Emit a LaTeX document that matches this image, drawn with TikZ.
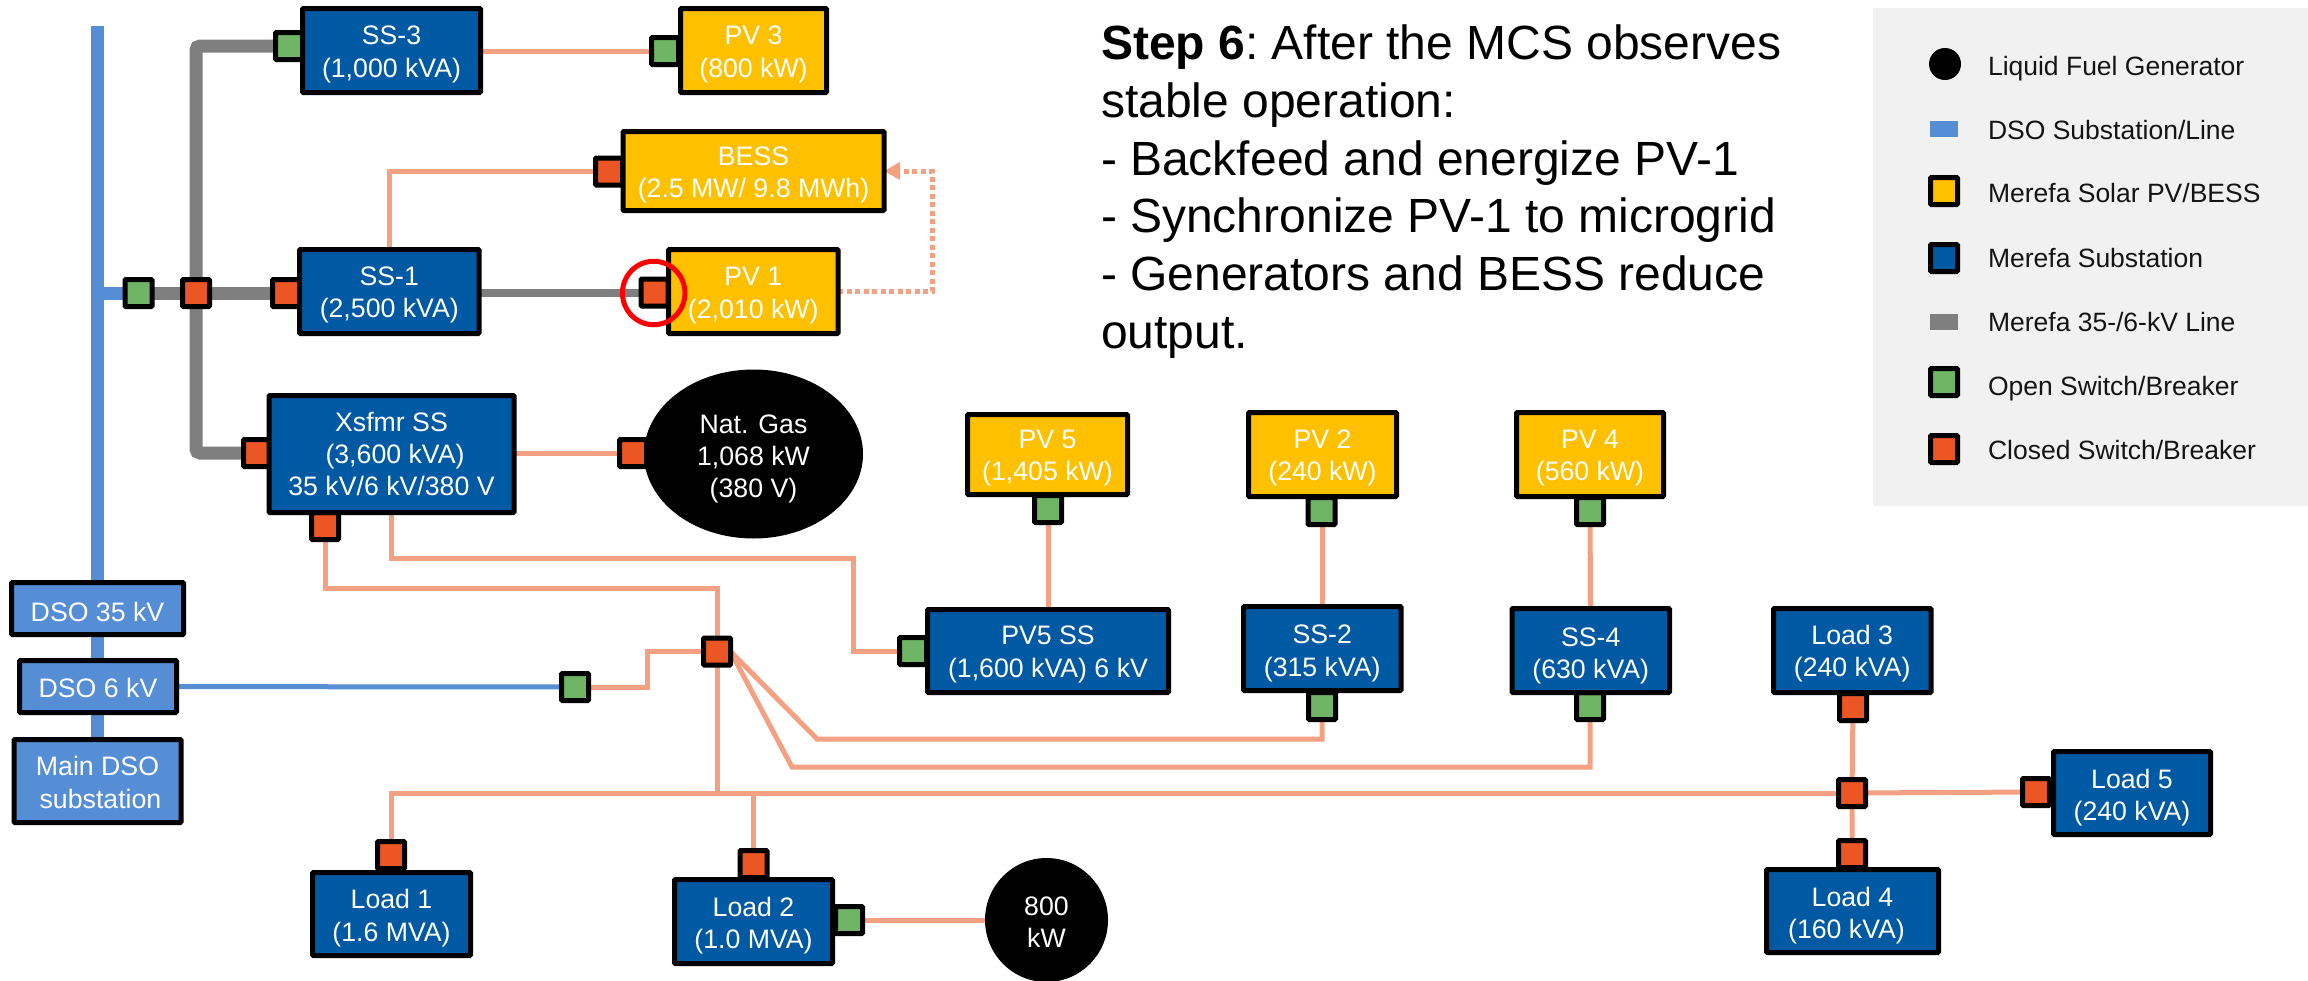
\documentclass[tikz,border=0pt]{standalone}
\usepackage{fontspec}
\setmainfont{Liberation Sans}
\usetikzlibrary{arrows.meta,backgrounds,shapes.geometric}
\definecolor{dsoblue}{HTML}{558ED5}
\definecolor{merblue}{HTML}{005AA3}
\definecolor{solar}{HTML}{FFC000}
\definecolor{opengreen}{HTML}{70B565}
\definecolor{closedorange}{HTML}{EC5624}
\definecolor{salmon}{HTML}{F4A083}
\definecolor{linegray}{HTML}{7F7F7F}
\definecolor{legendbg}{HTML}{F1F1F1}
\newcommand{\dropfirst}[1]{\rule{0pt}{\dimexpr 19.5pt+2\dimexpr #1pt\relax\relax}}
\newcommand{\bx}[8]{%
  \pgfmathsetmacro\bxcx{(#3+#4)/2}%
  \pgfmathsetmacro\bxcy{(#5+#6)/2}%
  \pgfmathsetmacro\bxw{#4-#3-5}%
  \pgfmathsetmacro\bxh{#6-#5-5}%
  \node[#2,minimum width=\bxw pt,minimum height=\bxh pt] (#1) at (\bxcx,\bxcy) {\dropfirst{#8}#7};}
\tikzset{
  every node/.style={inner sep=0pt,outer sep=0pt},
  boxtext/.style={align=center,text=white,font=\fontsize{26.7}{32.3}\selectfont},
  dsobox/.style={boxtext,draw=black,line width=5pt,fill=dsoblue,rounded corners=1pt},
  subst/.style={boxtext,draw=black,line width=5pt,fill=merblue,rounded corners=1pt},
  pvbox/.style={boxtext,draw=black,line width=5pt,fill=solar,rounded corners=1pt},
  gen/.style={boxtext,ellipse,fill=black},
  switchbase/.style={draw=black,line width=5pt,rounded corners=1pt,minimum width=27pt,minimum height=27pt},
  swopen/.style={switchbase,fill=opengreen},
  swclosed/.style={switchbase,fill=closedorange},
  medline/.style={draw=salmon,line width=5pt},
  dsoline/.style={draw=dsoblue,line width=13pt},
  dsothin/.style={draw=dsoblue,line width=5pt},
  grayline/.style={draw=linegray,line width=13pt,rounded corners=4pt},
  graystraight/.style={draw=linegray,line width=13pt},
  graythin/.style={draw=linegray,line width=8pt},
  dotline/.style={draw=salmon,line width=5pt,dash pattern=on 5pt off 3.5pt},
  legendtext/.style={anchor=west,text=black!92,font=\fontsize{26.5}{32}\selectfont},
  steptext/.style={anchor=north west,align=left,font=\frenchspacing\fontsize{48}{57.7}\selectfont},
  marker/.style={draw=red,line width=5pt,ellipse,minimum width=62.5pt,minimum height=63.5pt}
}
\begin{document}
\begin{tikzpicture}[x=1pt,y=-1pt]
\useasboundingbox (0,0) rectangle (2308,980);
% switches (behind the boxes)
\node[swopen] (swtie) at (138.5,293) {};
\node[swclosed] (swmain) at (196,293) {};
\node[swopen] (swss3) at (289,46) {};
\node[swopen] (swpv3) at (665,51) {};
\node[swclosed] (swbess) at (609,171.5) {};
\node[swclosed] (swss1) at (286,293) {};
\node[swclosed] (swpv1) at (654.5,292.5) {};
\node[swclosed] (swxf) at (257,453) {};
\node[swclosed] (swng) at (633,453) {};
\node[swclosed] (swxb) at (325,526) {};
\node[swclosed] (swbus) at (717,651.5) {};
\node[swopen] (swd6) at (575,687) {};
\node[swopen] (swp5ss) at (913,651) {};
\node[swopen] (swp5) at (1048,509) {};
\node[swopen] (swp2) at (1321.5,511) {};
\node[swopen] (swp4) at (1590,511) {};
\node[swopen] (swss2) at (1322,706) {};
\node[swopen] (swss4) at (1590,706) {};
\node[swclosed] (swl1) at (391,855) {};
\node[swclosed] (swl2) at (753.5,864) {};
\node[swopen] (swl2g) at (849,920) {};
\node[swclosed] (swl3) at (1853,707) {};
\node[swclosed] (swjn) at (1852,793) {};
\node[swclosed] (swl4) at (1852,854) {};
\node[swclosed] (swl5) at (2036,792) {};
% substations and sources
\bx{dsoa}{dsobox}{9}{186}{580}{637}{DSO 35 kV}{3}
\bx{dsob}{dsobox}{17}{179}{658}{715}{DSO 6 kV}{1.5}
\bx{dsoc}{dsobox}{11.5}{183.5}{737}{825}{Main DSO\\\hspace*{6pt}substation}{1.5}
\bx{ss3}{subst}{300}{483}{6}{95}{SS-3\\(1,000 kVA)}{3.5}
\bx{pv3}{pvbox}{678}{829}{6}{95}{PV 3\\(800 kW)}{3.5}
\bx{bess}{pvbox}{620.5}{886.5}{129}{213}{BESS\\(2.5 MW/ 9.8 MWh)}{3.5}
\bx{ss1}{subst}{297}{481.5}{247}{336}{SS-1\\(2,500 kVA)}{3}
\bx{pv1}{pvbox}{666}{840.5}{247}{336}{PV 1\\(2,010 kW)}{3.5}
\bx{xf}{subst}{266.5}{516.5}{393}{515}{Xsfmr SS\\\hspace*{7pt}(3,600 kVA)\\35 kV/6 kV/380 V}{0}
\bx{pv5}{pvbox}{965}{1130}{412}{497}{PV 5\\(1,405 kW)}{3}
\bx{pv2}{pvbox}{1246}{1399}{410}{499}{PV 2\\(240 kW)}{3}
\bx{pv4}{pvbox}{1514}{1666}{410}{499}{PV 4\\(560 kW)}{3}
\bx{p5ss}{subst}{925}{1171}{607}{695}{PV5 SS\\(1,600 kVA) 6 kV}{3}
\bx{ss2}{subst}{1241}{1403.5}{604}{693}{SS-2\\(315 kVA)}{4.5}
\bx{ss4}{subst}{1509.5}{1672}{606}{695}{SS-4\\(630 kVA)}{5}
\bx{l3}{subst}{1771}{1933.5}{606}{695}{Load 3\\(240 kVA)}{3}
\bx{l5}{subst}{2051}{2213}{749}{837}{Load 5\\(240 kVA)}{4.5}
\bx{l4}{subst}{1764}{1941}{867}{955}{Load 4\\(160 kVA)\hspace*{12pt}}{4.5}
\bx{l1}{subst}{310}{473}{870}{958}{Load 1\\(1.6 MVA)}{4}
\bx{l2}{subst}{672}{835}{877}{966}{Load 2\\(1.0 MVA)}{4}
\node[gen,minimum width=219pt,minimum height=169pt] (gng) at (753.5,454) {\dropfirst{4.5}Nat. Gas\\1,068 kW\\(380 V)};
\node[gen,minimum width=123pt,minimum height=124pt] (gl2) at (1046.5,920) {\dropfirst{1.5}800\\kW};
% bends and free ends
\coordinate (blue top) at (97.5,26);
\coordinate (bd6) at (647,687);
\coordinate (b1) at (717,588);
\coordinate (b2) at (853,558);
\coordinate (bj) at (717,793);
\coordinate (f1) at (817,739);
\coordinate (f2) at (792,767);
\coordinate (bd) at (932,171);
% connectors
\begin{scope}[on background layer]
  \draw[dsoline] (blue top) -- (dsoc.center);
  \draw[dsoline] (dsoa |- swtie) -- (swtie.center);
  \draw[dsothin] (dsob.center) -- (swd6.center);
  \draw[grayline] (swss3.center) -| (swmain.center) |- (swxf.center);
  \draw[graystraight] (swtie.center) -- (swss1.center);
  \draw[graythin] (ss1 |- swpv1) -- (swpv1.center);
  \draw[medline] (ss3 |- swpv3) -- (swpv3.center);
  \draw[medline] (ss1.center) |- (swbess.center);
  \draw[dotline,-{Triangle[length=16pt,width=17pt]}] (pv1.east) -| (bd) -- (bess.east |- bd);
  \draw[medline] (xf |- swng) -- (swng.center);
  \draw[medline] (swxb.center) |- (b1) -- (swbus.center) -- (bj);
  \draw[medline] (xf.south -| swl1) |- (b2) |- (swp5ss.center);
  \draw[medline] (swd6.center) -- (bd6) |- (swbus.center);
  \draw[medline] (swp5.center) -- (p5ss.center);
  \draw[medline] (swp2.center) -- (ss2 |- swp2.center) -- (ss2.center);
  \draw[medline] (swp4.center) -- (ss4.center);
  \draw[medline] (swbus.east) -- (f1) -| (swss2.center);
  \draw[medline] (swbus.east) -- (f2) -| (swss4.center);
  \draw[medline] (swl1.center) |- (swjn.center);
  \draw[medline] (swl2.center) -- (swl2 |- swjn);
  \draw[medline] (swl2g.center) -- (gl2.center);
  \draw[medline] (swl3.center) -- (swjn.center) -- (swl4.center);
  \draw[medline] (swjn.center) -- (swl5.center);
\end{scope}
% marker
\node[marker] (mark) at (653.7,293) {};
% step text
\node[steptext] (step) at (1101,25) {\textbf{Step 6}: After the MCS observes\\stable operation:\\- Backfeed and energize PV-1\\- Synchronize PV-1 to microgrid\\- Generators and BESS reduce\\output.};
% legend
\node[fill=legendbg,minimum width=435pt,minimum height=498pt] (legend) at (2090.5,257) {};
\node[circle,fill=black,minimum size=32pt] (lgen) at (1945,64) {};
\node[fill=dsoblue,minimum width=28pt,minimum height=16pt] (ldso) at (1944,129) {};
\node[draw=black,line width=5pt,fill=solar,rounded corners=1pt,minimum width=27pt,minimum height=27pt] (lpv) at (1944,191) {};
\node[draw=black,line width=5pt,fill=merblue,rounded corners=1pt,minimum width=27pt,minimum height=27pt] (lsub) at (1944,258) {};
\node[fill=linegray,minimum width=28pt,minimum height=16pt] (lgray) at (1944,322) {};
\node[swopen] (lopen) at (1944,382) {};
\node[swclosed] (lclosed) at (1944,449) {};
\node[legendtext] (t1) at (1988,68.5) {Liquid Fuel Generator};
\node[legendtext] (t2) at (1988,130) {DSO Substation/Line};
\node[legendtext] (t3) at (1988,193) {Merefa Solar PV/BESS};
\node[legendtext] (t4) at (1988,258) {Merefa Substation};
\node[legendtext] (t5) at (1988,322) {Merefa 35-/6-kV Line};
\node[legendtext] (t6) at (1988,389) {Open Switch/Breaker};
\node[legendtext] (t7) at (1988,450) {Closed Switch/Breaker};
\end{tikzpicture}
\end{document}
